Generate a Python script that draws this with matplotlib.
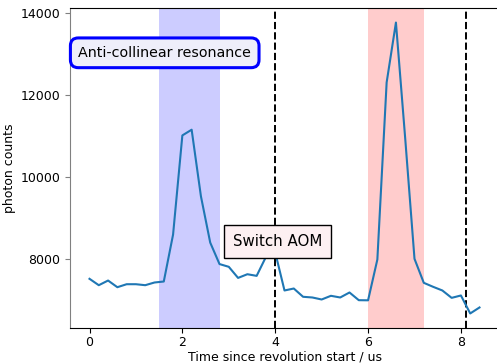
import numpy as np
import matplotlib
matplotlib.use("Agg")
import matplotlib.pyplot as plt

# Photon counts sampled every 0.2 us over one revolution
time_us = np.round(np.arange(0, 8.41, 0.2), 1)
counts = [
    7505, 7349, 7463, 7300, 7373, 7373, 7349, 7415, 7439, 8585,
    11007, 11146, 9520, 8390, 7865, 7798, 7527, 7617, 7577, 8040,
    8150, 7220, 7268, 7066, 7049, 7000, 7090, 7049, 7171, 6983,
    6980, 7976, 12300, 13763, 10930, 7993, 7407, 7310, 7220, 7040,
    7098, 6659, 6805,
]

resonance_span = (1.5, 2.8)
second_span = (6.0, 7.2)
marker_times = [4.0, 8.1]

plt.rcParams["font.size"] = 9

fig = plt.figure(figsize=(4.97, 3.64), dpi=100)
ax = fig.add_axes([70 / 497, 36 / 364, 429 / 497, 320 / 364])

ax.axvspan(*resonance_span, color="blue", alpha=0.2, lw=0)
ax.axvspan(*second_span, color="red", alpha=0.2, lw=0)
for t in marker_times:
    ax.axvline(t, color="black", ls="--", lw=1.4)

ax.plot(time_us, counts, color="#1f77b4", lw=1.5)

ax.text(1.62, 13024, "Anti-collinear resonance", ha="center", va="center",
        fontsize=10.3,
        bbox=dict(boxstyle="round,pad=0.55", fc="#eeeefa", ec="blue", lw=2.2))
ax.text(4.05, 8427, "Switch AOM", ha="center", va="center", fontsize=10.8,
        bbox=dict(boxstyle="square,pad=0.6", fc="#fdf0f2", ec="black", lw=1))

ax.set_xticks([0, 2, 4, 6, 8])
ax.set_yticks([8000, 10000, 12000, 14000])
ax.tick_params(axis="x", pad=2.5)
ax.set_xlabel("Time since revolution start / us", labelpad=1)
ax.set_ylabel("photon counts", labelpad=3)
ax.spines["left"].set_color("gray")
ax.tick_params(axis="y", color="gray")

fig.savefig("out.png", dpi=100)
